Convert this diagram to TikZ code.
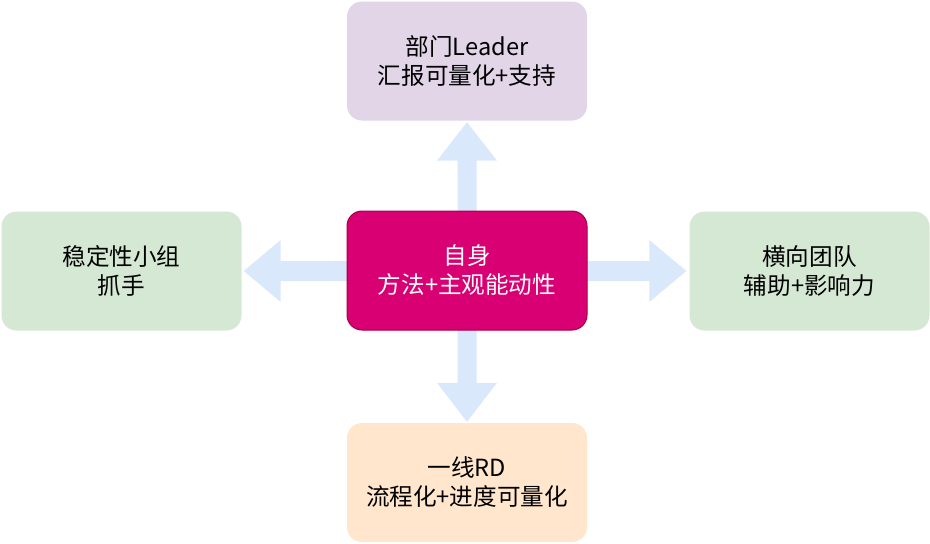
\documentclass[tikz,border=0pt]{standalone}
\usepackage{fontspec}
\setmainfont{Noto Sans CJK SC}
\usetikzlibrary{calc}
\definecolor{purpfill}{HTML}{E1D5E7}
\definecolor{greenfill}{HTML}{D5E8D4}
\definecolor{orangefill}{HTML}{FFE6CC}
\definecolor{magfill}{HTML}{D80073}
\definecolor{magline}{HTML}{A50040}
\definecolor{arrfill}{HTML}{DAE8FC}
\tikzset{
  box/.style={rounded corners=15pt, minimum width=240pt, minimum height=119pt, inner sep=0pt,
    align=center, font=\fontsize{23.6}{29}\selectfont, text=black},
  arr/.style={fill=arrfill, draw=none}
}
\begin{document}
\begin{tikzpicture}[x=1pt,y=-1pt]
\useasboundingbox (0,0) rectangle (930,544);
\coordinate (cN) at (467,211);
\coordinate (cS) at (467,330);
\coordinate (cW) at (347,271);
\coordinate (cE) at (587,271);
\node[box, fill=purpfill] (t) at (467,61) {部门Leader\\汇报可量化+支持};
\node[box, fill=greenfill] (l) at (121.5,271) {稳定性小组\\抓手};
\node[box, fill=greenfill] (r) at (809.5,271) {横向团队\\辅助+影响力};
\node[box, fill=orangefill] (b) at (467,482.5) {一线RD\\流程化+进度可量化};
% up arrow
\fill[arr] ($(cN)+(-9.5,1)$) -- ($(t.south)+(-9.5,40)$) -- ($(t.south)+(-30,40)$) -- ($(t.south)+(0,1.5)$) -- ($(t.south)+(30,40)$) -- ($(t.south)+(9.5,40)$) -- ($(cN)+(9.5,1)$) -- cycle;
% down arrow
\fill[arr] ($(cS)+(-9.5,-1)$) -- ($(b.north)+(-9.5,-40)$) -- ($(b.north)+(-30,-40)$) -- ($(b.north)+(0,-1)$) -- ($(b.north)+(30,-40)$) -- ($(b.north)+(9.5,-40)$) -- ($(cS)+(9.5,-1)$) -- cycle;
% left arrow
\fill[arr] ($(cW)+(1,-10)$) -- ($(l.east)+(39,-10)$) -- ($(l.east)+(39,-31)$) -- ($(l.east)+(2,0)$) -- ($(l.east)+(39,31)$) -- ($(l.east)+(39,10)$) -- ($(cW)+(1,10)$) -- cycle;
% right arrow
\fill[arr] ($(cE)+(-1,-10)$) -- ($(r.west)+(-40,-10)$) -- ($(r.west)+(-40,-31)$) -- ($(r.west)+(-3,0)$) -- ($(r.west)+(-40,31)$) -- ($(r.west)+(-40,10)$) -- ($(cE)+(-1,10)$) -- cycle;
% center box
\node[box, fill=magfill, draw=magline, line width=1pt, text=white] (c) at (467,270.5) {自身\\方法+主观能动性};
\end{tikzpicture}
\end{document}
